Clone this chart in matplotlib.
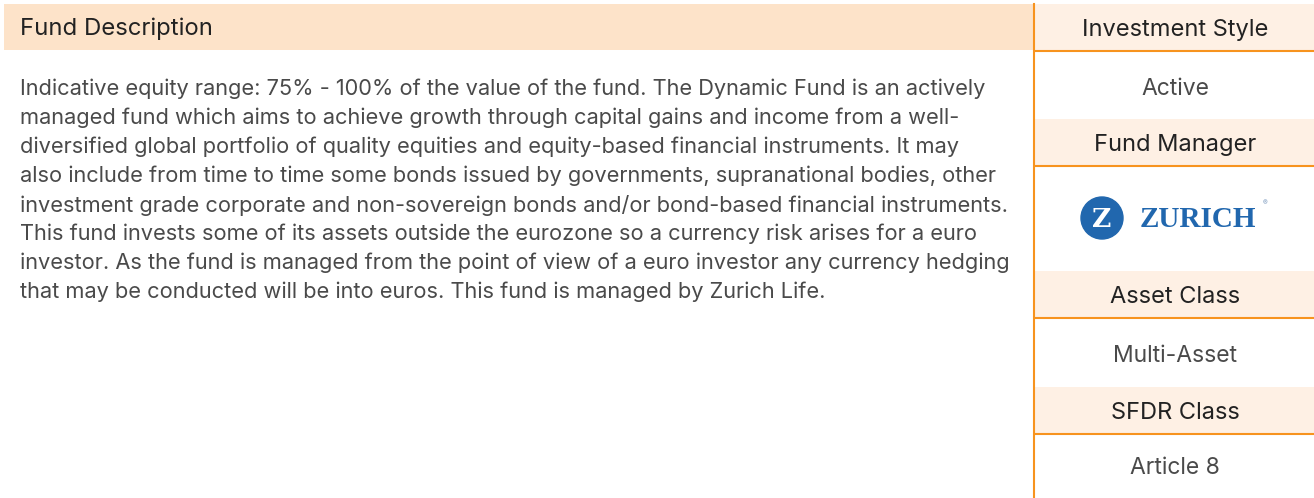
import matplotlib
matplotlib.use("Agg")
import matplotlib.pyplot as plt
from matplotlib.patches import Rectangle, Circle

plt.rcParams['font.family'] = ['Inter', 'DejaVu Sans']

# content
desc_title = "Fund Description"
desc_lines = [
    "Indicative equity range: 75% - 100% of the value of the fund. The Dynamic Fund is an actively",
    "managed fund which aims to achieve growth through capital gains and income from a well-",
    "diversified global portfolio of quality equities and equity-based financial instruments. It may",
    "also include from time to time some bonds issued by governments, supranational bodies, other",
    "investment grade corporate and non-sovereign bonds and/or bond-based financial instruments.",
    "This fund invests some of its assets outside the eurozone so a currency risk arises for a euro",
    "investor. As the fund is managed from the point of view of a euro investor any currency hedging",
    "that may be conducted will be into euros. This fund is managed by Zurich Life.",
]
side_headers = ["Investment Style", "Fund Manager", "Asset Class", "SFDR Class"]
side_values = ["Active", None, "Multi-Asset", "Article 8"]

W, H = 1314, 498
fig = plt.figure(figsize=(W / 100, H / 100), dpi=100)
ax = fig.add_axes([0, 0, 1, 1])
ax.set_xlim(0, W)
ax.set_ylim(H, 0)
ax.axis('off')

orange = '#f7931e'
peach = '#fde3c9'
light = '#fef0e4'
dark = '#222222'
grey = '#4a4a4a'
blue = '#2167ae'

# left panel
ax.add_patch(Rectangle((4, 4), 1030, 46, color=peach, lw=0))
ax.text(20, 29, desc_title, fontsize=17.2, color=dark, va='center')
for i, line in enumerate(desc_lines):
    ax.text(20, 89 + i * 29, line, fontsize=15.7, color=grey, va='center')

# right panel
ax.plot([1034, 1034], [4, 498], color=orange, lw=1.5)
band_tops = [4, 119, 271, 387]
band_h = 47
value_y = [89, None, 356, 468]
cx = 1175
for top, head, val, vy in zip(band_tops, side_headers, side_values, value_y):
    ax.add_patch(Rectangle((1035, top), W - 1035, band_h, color=light, lw=0))
    ax.plot([1035, W], [top + band_h, top + band_h], color=orange, lw=1.5)
    ax.text(cx, top + band_h / 2 + 2, head, fontsize=17, color=dark, ha='center', va='center')
    if val:
        ax.text(cx, vy, val, fontsize=16.5, color=grey, ha='center', va='center')

# manager logo
ax.add_patch(Circle((1102, 218), 21, color=blue))
ax.text(1102, 219, "Z", fontsize=19, color='white', ha='center', va='center',
        family='DejaVu Serif', fontweight='bold')
ax.text(1140, 219, "ZURICH", fontsize=21, color=blue, ha='left', va='center',
        family='Liberation Serif', fontweight='bold')
ax.text(1265, 203, "\u00ae", fontsize=5, color='#7f9cc0', ha='center', va='center')

fig.savefig('out.png', dpi=100)
